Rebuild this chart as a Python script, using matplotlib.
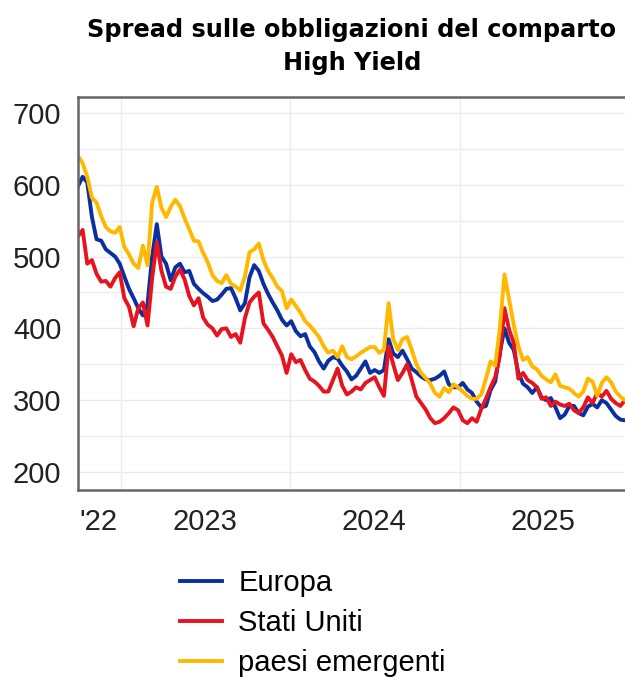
import matplotlib
matplotlib.use('Agg')
import matplotlib.pyplot as plt
import matplotlib.dates as mdates
import pandas as pd

# dati (punti ogni 10 giorni circa)
dates = pd.date_range('2022-10-01', periods=119, freq='10D')

europa = [598, 611, 603, 555, 524, 522, 510, 505, 500, 490,
          472, 455, 442, 428, 418, 434, 500, 545, 500, 490,
          467, 485, 490, 478, 480, 462, 455, 449, 444, 438,
          440, 447, 455, 456, 442, 425, 435, 471, 488, 480,
          462, 448, 436, 425, 412, 404, 410, 396, 389, 392,
          375, 367, 354, 344, 355, 360, 358, 348, 340, 329,
          334, 344, 354, 338, 342, 338, 342, 385, 365, 360,
          369, 357, 344, 339, 333, 329, 328, 330, 334, 340,
          322, 318, 318, 324, 315, 310, 298, 290, 292, 314,
          326, 366, 400, 380, 370, 338, 323, 318, 310, 318,
          304, 300, 303, 290, 275, 280, 292, 292, 282, 279,
          291, 295, 290, 300, 296, 287, 278, 273, 272]

stati_uniti = [528, 537, 490, 495, 476, 465, 466, 458, 470, 478,
               442, 430, 403, 428, 436, 404, 470, 520, 480, 458,
               455, 472, 482, 468, 445, 432, 442, 415, 405, 400,
               390, 399, 400, 388, 392, 380, 414, 436, 444, 450,
               407, 398, 388, 375, 362, 338, 364, 353, 356, 342,
               330, 326, 320, 312, 312, 328, 344, 320, 308, 312,
               318, 315, 324, 328, 332, 318, 306, 375, 350, 328,
               338, 350, 328, 305, 296, 287, 275, 268, 270, 275,
               282, 290, 286, 272, 268, 275, 270, 288, 302, 318,
               332, 362, 428, 398, 380, 330, 338, 328, 324, 318,
               302, 304, 292, 298, 294, 292, 295, 286, 282, 290,
               304, 296, 310, 305, 313, 302, 296, 292, 300]

emergenti = [640, 630, 611, 582, 575, 556, 541, 535, 533, 541,
             513, 503, 490, 484, 515, 488, 575, 597, 568, 555,
             569, 579, 570, 553, 538, 522, 521, 505, 492, 474,
             466, 463, 474, 462, 458, 453, 472, 506, 510, 518,
             495, 480, 470, 458, 452, 428, 440, 431, 422, 410,
             404, 396, 388, 375, 366, 369, 360, 375, 360, 357,
             361, 366, 370, 374, 374, 366, 370, 435, 385, 370,
             385, 388, 370, 350, 338, 331, 323, 310, 305, 317,
             311, 322, 318, 312, 306, 302, 302, 308, 330, 354,
             348, 400, 475, 440, 405, 375, 356, 360, 347, 343,
             334, 329, 325, 336, 320, 318, 316, 310, 305, 312,
             330, 326, 306, 324, 332, 325, 312, 305, 300]

labels = ['Europa', 'Stati Uniti', 'paesi emergenti']
colors = ['#0a2f9e', '#e5141e', '#ffb800']

plt.rcParams['font.family'] = ['Liberation Sans', 'DejaVu Sans']

fig = plt.figure(figsize=(6.25, 6.77), dpi=100)
fig.patch.set_facecolor('white')
ax = fig.add_axes([0.1248, 0.2762, 0.8752, 0.5805])

for vals, lbl, c in zip([europa, stati_uniti, emergenti], labels, colors):
    ax.plot(dates, vals, color=c, lw=2.8, label=lbl, solid_joinstyle='round')

ax.set_xlim(dates[0], dates[-1])
ax.set_ylim(175, 722)

# griglia
ax.set_yticks([200, 300, 400, 500, 600, 700])
ax.set_yticks([250, 350, 450, 550, 650], minor=True)
ax.grid(axis='y', which='both', color='#ececec', lw=1.0)
ax.xaxis.set_major_locator(mdates.YearLocator())
ax.xaxis.set_major_formatter(plt.NullFormatter())
ax.grid(axis='x', which='major', color='#ececec', lw=1.0)

mid = pd.to_datetime(['2022-11-15', '2023-07-01', '2024-07-01', '2025-07-01'])
ax.set_xticks(mid, minor=True)
ax.set_xticklabels(["'22", '2023', '2024', '2025'], minor=True)

ax.tick_params(axis='both', which='both', length=0, labelsize=21,
               labelcolor='#222222')
ax.tick_params(axis='y', pad=12)
ax.tick_params(axis='x', which='minor', pad=13)

for s in ['left', 'top', 'bottom']:
    ax.spines[s].set_color('#666666')
    ax.spines[s].set_linewidth(1.8)
ax.spines['right'].set_visible(False)

fig.text(0.563, 0.931, 'Spread sulle obbligazioni del comparto\nHigh Yield',
         ha='center', va='center', fontsize=17.3, fontweight='bold',
         family=['DejaVu Sans'], linespacing=1.48)

ax.legend(loc='upper left', bbox_to_anchor=(0.288, 0.159),
          bbox_transform=fig.transFigure, frameon=False, fontsize=21,
          handlelength=1.45, handletextpad=0.55, labelspacing=0.41,
          borderaxespad=0, borderpad=0)

plt.savefig('out.png', dpi=100)
plt.close()
